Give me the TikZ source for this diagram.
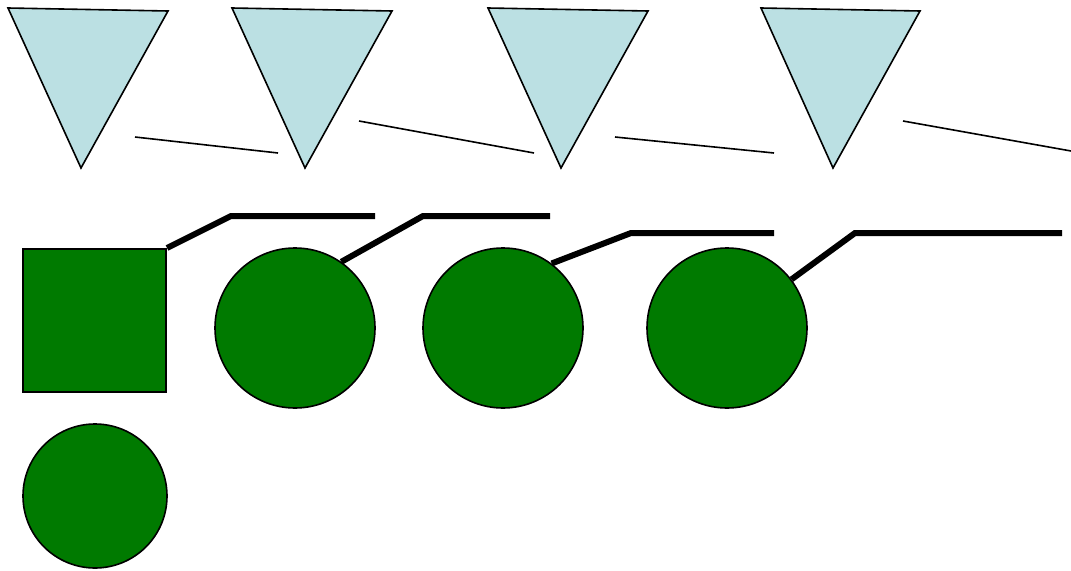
\documentclass[tikz,border=0pt]{standalone}
\usepackage{xcolor}
\usepackage{tikz}
\usetikzlibrary{positioning, calc}

\definecolor{triblue}{HTML}{BBE0E3}
\definecolor{blobgreen}{HTML}{007A00}

\begin{document}
\begin{tikzpicture}[
  x=0.75pt, y=-0.75pt,
  tri/.style={draw, fill=triblue, line width=1.2pt, line join=miter},
  thin/.style={line width=1.2pt},
  blob/.style={draw, circle, fill=blobgreen, line width=1.2pt, inner sep=0pt, minimum size=#1},
  box/.style={draw, rectangle, fill=blobgreen, line width=1.5pt, inner sep=0pt, minimum size=#1},
  lead/.style={line width=4.5pt, line join=miter},
]
\useasboundingbox (0,0) rectangle (1071,571);

% ── top row: triangles ──
\draw[tri] (8,8) -- (168,11) -- (81,168) -- cycle;
\draw[tri] (232,8) -- (392,11) -- (305,168) -- cycle;
\draw[tri] (488,8) -- (648,11) -- (561,168) -- cycle;
\draw[tri] (761,8) -- (920,11) -- (833,168) -- cycle;

% ── thin strokes ──
\coordinate (a1) at (135,137);  \coordinate (b1) at (278,153);
\coordinate (a2) at (359,121);  \coordinate (b2) at (534,153);
\coordinate (a3) at (615,137);  \coordinate (b3) at (774,153);
\coordinate (a4) at (903,121);  \coordinate (b4) at (1071,151);
\draw[thin] (a1) -- (b1);
\draw[thin] (a2) -- (b2);
\draw[thin] (a3) -- (b3);
\draw[thin] (a4) -- (b4);

% ── green shapes ──
\node[box=107.25pt] (sq) at (94.5,320.5) {};
\node[blob=120pt] (c1) at (295,328) {};
\node[blob=120pt] (c2) at (503,328) {};
\node[blob=120pt] (c3) at (727,328) {};
\node[blob=108pt] (c4) at (95,496) {};

% ── thick leaders ──
\coordinate (k0) at (231,216);  \coordinate (e0) at (375,216);
\coordinate (k1) at (423,216);  \coordinate (e1) at (550,216);
\coordinate (k2) at (631,233);  \coordinate (e2) at (774,233);
\coordinate (k3) at (855,233);  \coordinate (e3) at (1062,233);
\draw[lead] (sq.north east) -- (k0) -- (e0);
\draw[lead] (c1.55) -- (k1) -- (e1);
\draw[lead] (c2.53) -- (k2) -- (e2);
\draw[lead] (c3.37) -- (k3) -- (e3);
\end{tikzpicture}
\end{document}
